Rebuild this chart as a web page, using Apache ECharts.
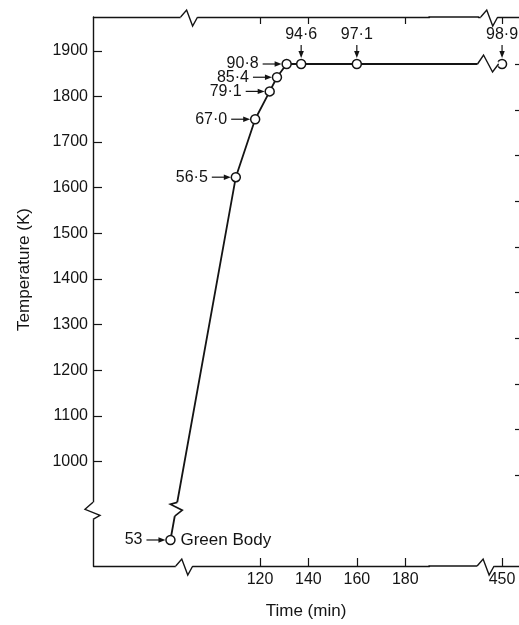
<!DOCTYPE html>
<html><head><meta charset="utf-8">
<script src="https://cdn.jsdelivr.net/npm/echarts@6/dist/echarts.min.js"></script>
<style>html,body{margin:0;padding:0;background:#fff}#c{width:519px;height:625px}</style>
</head><body><div id="c"></div>
<script>
// ---- data ----
const times = [83, 110, 118, 124, 127, 131, 137, 160, 450];            // min (first point = green body, on broken axis)
const temps = [828, 1623, 1750, 1811, 1842, 1871, 1871, 1871, 1871];   // K (first point on broken axis)
const densityLabels = ['53', '56·5', '67·0', '79·1', '85·4', '90·8', '94·6', '97·1', '98·9'];
const greenBodyLabel = 'Green Body';
const yTicks = [1000, 1100, 1200, 1300, 1400, 1500, 1600, 1700, 1800, 1900];
const yRightTicks = [970, 1070, 1170, 1270, 1370, 1470, 1570, 1670, 1770, 1870];
const xBottomTicks = [120, 140, 160, 180, 450];
const xTopTicks = [120, 140, 180, 450];
const xBreak = { start: 190, end: 440, gap: 20 };

// ---- presentation ----
const INK = '#141414';
const FONT = '"Liberation Sans", Arial, sans-serif';
const X_MIN = 51, X_MAX = 457, Y_MIN = 771, Y_MAX = 1974;
const TOP_LABEL_FROM = 6; // plateau points are labelled from above

const chart = echarts.init(document.getElementById('c'), null, { renderer: 'canvas' });

function renderAnno(params, api) {
  const i = api.value(2);
  const p = api.coord([api.value(0), api.value(1)]);
  const kids = [];
  const font = '16px ' + FONT;
  if (i < TOP_LABEL_FROM) {
    const y = p[1], xs = p[0] - 24, xe = p[0] - 5;
    kids.push({ type: 'line', shape: { x1: xs, y1: y, x2: xe - 5, y2: y }, style: { stroke: INK, lineWidth: 1.2 } });
    kids.push({ type: 'polygon', shape: { points: [[xe, y], [xe - 7, y - 2.7], [xe - 7, y + 2.7]] }, style: { fill: INK } });
    kids.push({ type: 'text', style: { text: densityLabels[i], x: p[0] - 28, y: y, align: 'right', verticalAlign: 'middle', font: font, fill: INK } });
  } else {
    const x = p[0], ys = p[1] - 19, ye = p[1] - 6;
    kids.push({ type: 'line', shape: { x1: x, y1: ys, x2: x, y2: ye - 5 }, style: { stroke: INK, lineWidth: 1.2 } });
    kids.push({ type: 'polygon', shape: { points: [[x, ye], [x - 2.7, ye - 7], [x + 2.7, ye - 7]] }, style: { fill: INK } });
    kids.push({ type: 'text', style: { text: densityLabels[i], x: x, y: p[1] - 29, align: 'center', verticalAlign: 'middle', font: font, fill: INK } });
  }
  if (i === 0) {
    kids.push({ type: 'text', style: { text: greenBodyLabel, x: p[0] + 10, y: p[1], align: 'left', verticalAlign: 'middle', font: '17px ' + FONT, fill: INK } });
  }
  return { type: 'group', children: kids };
}

const axisLineStyle = { color: INK, width: 1.4 };

chart.setOption({
  animation: false,
  backgroundColor: '#fff',
  grid: { left: 93, right: 0, top: 17, bottom: 56 },
  xAxis: [
    {
      type: 'value', position: 'bottom', min: X_MIN, max: X_MAX,
      breaks: [xBreak], breakArea: { show: false },
      name: 'Time (min)', nameLocation: 'middle', nameGap: 37,
      nameTextStyle: { color: INK, fontSize: 17, fontFamily: FONT },
      axisLine: { show: true, lineStyle: axisLineStyle },
      axisTick: { show: true, inside: true, length: 8, customValues: xBottomTicks, lineStyle: { color: INK, width: 1.2 } },
      axisLabel: { show: true, customValues: xBottomTicks, margin: 6, color: INK, fontSize: 16, fontFamily: FONT, formatter: v => String(v) },
      splitLine: { show: false }
    },
    {
      type: 'value', position: 'top', min: X_MIN, max: X_MAX,
      breaks: [xBreak], breakArea: { show: false },
      axisLine: { show: true, lineStyle: axisLineStyle },
      axisTick: { show: true, inside: true, length: 7, customValues: xTopTicks, lineStyle: { color: INK, width: 1.2 } },
      axisLabel: { show: false },
      splitLine: { show: false }
    }
  ],
  yAxis: [
    {
      type: 'value', position: 'left', min: Y_MIN, max: Y_MAX,
      name: 'Temperature (K)', nameLocation: 'middle', nameGap: 60,
      nameTextStyle: { color: INK, fontSize: 17, fontFamily: FONT, padding: [0, 0, 0, 44] },
      axisLine: { show: true, lineStyle: axisLineStyle },
      axisTick: { show: true, inside: true, length: 9, customValues: yTicks, lineStyle: { color: INK, width: 1.2 } },
      axisLabel: { show: true, customValues: yTicks, margin: 5, color: INK, fontSize: 16, fontFamily: FONT, formatter: v => String(v) },
      splitLine: { show: false }
    },
    {
      type: 'value', position: 'right', min: Y_MIN, max: Y_MAX,
      axisLine: { show: false },
      axisTick: { show: true, inside: true, length: 4, customValues: yRightTicks, lineStyle: { color: INK, width: 1.2 } },
      axisLabel: { show: false },
      splitLine: { show: false }
    }
  ],
  series: [
    {
      type: 'line', xAxisIndex: 0, yAxisIndex: 0,
      data: times.map((t, i) => [t, temps[i]]),
      symbol: 'circle', symbolSize: 9,
      lineStyle: { color: INK, width: 1.8 },
      itemStyle: { color: '#fff', borderColor: INK, borderWidth: 1.5 },
      z: 3
    },
    {
      type: 'custom', xAxisIndex: 0, yAxisIndex: 0, clip: false, z: 4,
      data: times.map((t, i) => [t, temps[i], i]),
      renderItem: renderAnno
    }
  ]
});

// ---- break marks (zigzags), placed through the axes' own scales ----
const px = v => chart.convertToPixel({ xAxisIndex: 0 }, v);
const py = v => chart.convertToPixel({ yAxisIndex: 0 }, v);
const els = [];
function zig(points, cover) {
  els.push(Object.assign({ type: 'rect', z: 100, style: { fill: '#fff' } }, { shape: cover }));
  els.push({ type: 'polyline', z: 101, shape: { points: points }, style: { stroke: INK, lineWidth: 1.4, fill: null } });
}
const xl = px(X_MIN), yb = py(Y_MIN), yt = py(Y_MAX);
// the frame stays continuous across the compressed time range
[yb, yt].forEach(y => {
  els.push({ type: 'line', z: 99, shape: { x1: px(xBreak.start) - 1, y1: y, x2: px(xBreak.end) + 1, y2: y }, style: { stroke: INK, lineWidth: 1.4 } });
});
// left axis break
{ const cy = py(893); zig([[xl, cy - 8], [xl - 8, cy - 1], [xl + 7, cy + 5], [xl, cy + 9]], { x: xl - 2, y: cy - 8, width: 4, height: 17 }); }
// bottom & top axis breaks
function hzig(cx, cy) { zig([[cx - 8, cy], [cx - 2, cy - 7], [cx + 4, cy + 9], [cx + 9, cy]], { x: cx - 8, y: cy - 2, width: 17, height: 4 }); }
hzig(px(88.5), yb); hzig(px(90.5), yt); hzig(px(443), yb); hzig(px(444.5), yt);
// data line break on the plateau
{ const cx = px(444), cy = py(temps[7]);
  zig([[cx - 10, cy], [cx - 4, cy - 9], [cx + 5, cy + 8], [cx + 11, cy]], { x: cx - 10, y: cy - 2.5, width: 21, height: 5 }); }
// data line break between green body and first sintered point
{ const g = [px(times[0]), py(temps[0])], p = [px(times[1]), py(temps[1])];
  const dx = p[0] - g[0], dy = p[1] - g[1], L = Math.hypot(dx, dy), d = [dx / L, dy / L];
  const c = [g[0] + dx * 0.082, g[1] + dy * 0.082];
  const T = [c[0] + d[0] * 8, c[1] + d[1] * 8], B = [c[0] - d[0] * 6, c[1] - d[1] * 6];
  els.push({ type: 'line', z: 100, shape: { x1: B[0], y1: B[1], x2: T[0], y2: T[1] }, style: { stroke: '#fff', lineWidth: 4.5 } });
  els.push({ type: 'polyline', z: 101, shape: { points: [T, [c[0] - 5.5, c[1] - 6], [c[0] + 6.5, c[1]], B] }, style: { stroke: INK, lineWidth: 1.6, fill: null } });
}
chart.setOption({ graphic: { elements: els } });
</script>
</body></html>
